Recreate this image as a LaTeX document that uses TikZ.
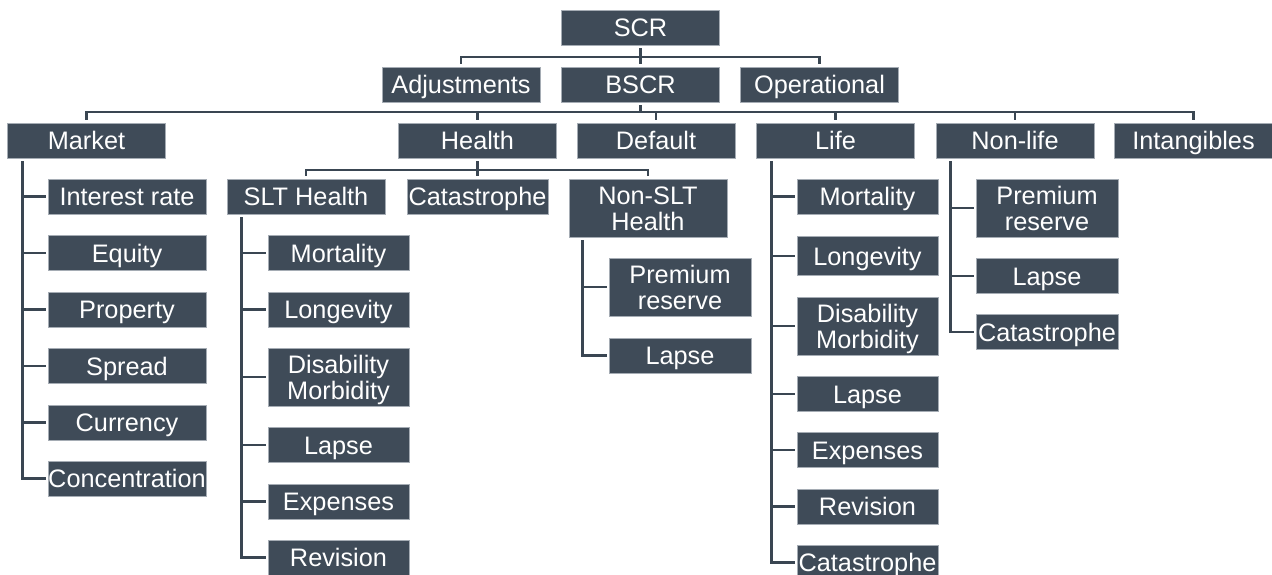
\documentclass[tikz,border=0pt]{standalone}
\usepackage{fontspec}
\setmainfont{Liberation Sans}
\usetikzlibrary{calc}
\definecolor{boxc}{RGB}{63,75,88}
\definecolor{linec}{RGB}{58,70,82}
\definecolor{edgec}{RGB}{165,172,180}
\begin{document}
\begin{tikzpicture}[x=1pt,y=-1pt,
  bx/.style={fill=boxc,draw=edgec,line width=0.5pt,text=white,inner sep=0pt,
    minimum width=158pt,minimum height=35pt,
    font=\fontsize{25.3}{26}\selectfont,align=center,text height=20pt,text depth=2pt},
  two/.style={minimum height=58pt,text height=46pt,text depth=2pt},
  nw/.style={minimum width=141pt},
  nw2/.style={minimum width=142pt},
  ln/.style={draw=linec,line width=2.8pt}]
\useasboundingbox (0,0) rectangle (1272,575);
% level 0-2
\node[bx] (scr) at (640.5,27.5) {SCR};
\node[bx] (adj) at (461,84.5) {Adjustments};
\node[bx] (bscr) at (640.5,84.5) {BSCR};
\node[bx] (oper) at (819.5,84.5) {Operational};
\node[bx] (market) at (86.5,140.5) {Market};
\node[bx] (health) at (477.5,140.5) {Health};
\node[bx] (default) at (656,140.5) {Default};
\node[bx] (life) at (835.5,140.5) {Life};
\node[bx] (nonlife) at (1015,140.5) {Non-life};
\node[bx] (intang) at (1193.5,140.5) {Intangibles};
% market children
\node[bx] (ir) at (127,196.5) {Interest rate};
\node[bx] (eq) at (127,253) {Equity};
\node[bx] (pr) at (127,309.5) {Property};
\node[bx] (spr) at (127,366) {Spread};
\node[bx] (cur) at (127,422.5) {Currency};
\node[bx] (conc) at (127,478.5) {Concentration};
% health children
\node[bx] (slt) at (306,196.5) {SLT Health};
\node[bx,nw] (hcat) at (477.5,196.5) {Catastrophe};
\node[bx,two] (nonslt) at (648,208) {Non-SLT\\Health};
% SLT children
\node[bx,nw] (sm) at (338.5,253) {Mortality};
\node[bx,nw] (slo) at (338.5,309.5) {Longevity};
\node[bx,nw,two] (sd) at (338.5,377) {Disability\\Morbidity};
\node[bx,nw] (sla) at (338.5,445) {Lapse};
\node[bx,nw] (se) at (338.5,501.5) {Expenses};
\node[bx,nw] (sr) at (338.5,557.5) {Revision};
% Non-SLT children
\node[bx,nw2,two] (np) at (680,287) {Premium\\reserve};
\node[bx,nw2] (nl) at (680,355.5) {Lapse};
% Life children
\node[bx,nw] (lm) at (867.5,196.5) {Mortality};
\node[bx,nw,minimum height=39pt] (llo) at (867.5,256) {Longevity};
\node[bx,nw,two] (ld) at (867.5,326) {Disability\\Morbidity};
\node[bx,nw] (lla) at (867.5,394) {Lapse};
\node[bx,nw] (le) at (867.5,450) {Expenses};
\node[bx,nw] (lr) at (867.5,506.5) {Revision};
\node[bx,nw] (lc) at (867.5,562.5) {Catastrophe};
% Non-life children
\node[bx,nw2,two] (fp) at (1047,208) {Premium\\reserve};
\node[bx,nw2] (fl) at (1047,276) {Lapse};
\node[bx,nw2] (fc) at (1047,332) {Catastrophe};
% buses
\coordinate (b1) at (0,57);
\coordinate (b2) at (0,112);
\coordinate (b3) at (0,170);
\draw[ln,shorten <=3pt,shorten >=3pt] (scr) -- (bscr);
\draw[ln,shorten <=3pt,shorten >=3pt] (adj.north) -- (adj.north |- b1) -- (oper.north |- b1) -- (oper.north);
\draw[ln,shorten <=3pt] (bscr.south) -- (bscr.south |- b2);
\draw[ln,shorten <=3pt,shorten >=3pt] (market.north) -- (market.north |- b2) -- (intang.north |- b2) -- (intang.north);
\foreach \n in {health,default,life,nonlife} \draw[ln,shorten >=3pt] (\n.north |- b2) -- (\n.north);
\draw[ln,shorten <=3pt,shorten >=3pt] (health) -- (hcat);
\draw[ln,shorten <=3pt,shorten >=3pt] (slt.north) -- (slt.north |- b3) -- (nonslt.north |- b3) -- (nonslt.north);
% spines
\coordinate (sp1) at ($(market.south west)+(15,0)$);
\draw[ln,shorten <=3pt,shorten >=2pt] (sp1) |- (conc.west);
\foreach \n in {ir,eq,pr,spr,cur} \draw[ln,shorten >=2pt] (sp1 |- \n.west) -- (\n.west);
\coordinate (sp2) at ($(slt.south west)+(15,0)$);
\draw[ln,shorten <=3pt,shorten >=2pt] (sp2) |- (sr.west);
\foreach \n in {sm,slo,sd,sla,se} \draw[ln,shorten >=2pt] (sp2 |- \n.west) -- (\n.west);
\coordinate (sp3) at ($(nonslt.south west)+(14,0)$);
\draw[ln,shorten <=3pt,shorten >=2pt] (sp3) |- (nl.west);
\draw[ln,shorten >=2pt] (sp3 |- np.west) -- (np.west);
\coordinate (sp4) at ($(life.south west)+(15,0)$);
\draw[ln,shorten <=3pt,shorten >=2pt] (sp4) |- (lc.west);
\foreach \n in {lm,llo,ld,lla,le,lr} \draw[ln,shorten >=2pt] (sp4 |- \n.west) -- (\n.west);
\coordinate (sp5) at ($(nonlife.south west)+(15,0)$);
\draw[ln,shorten <=3pt,shorten >=2pt] (sp5) |- (fc.west);
\foreach \n in {fp,fl} \draw[ln,shorten >=2pt] (sp5 |- \n.west) -- (\n.west);
\end{tikzpicture}
\end{document}
